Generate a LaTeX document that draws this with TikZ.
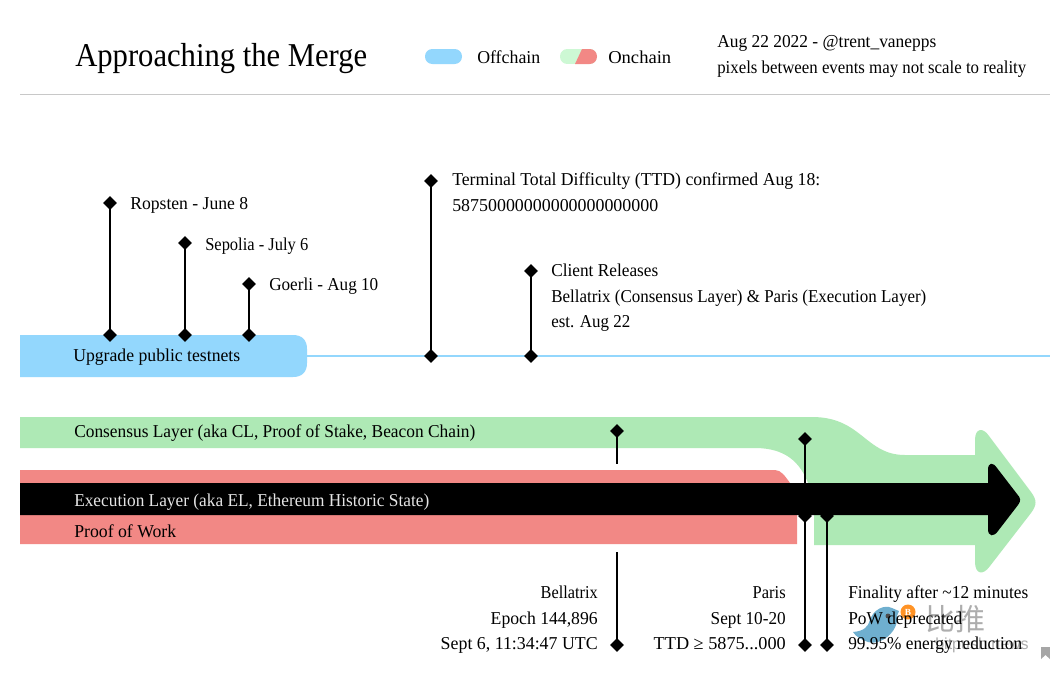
\documentclass[tikz,border=0pt]{standalone}
\usepackage{fontspec}
\setmainfont{Liberation Serif}
\newfontfamily\cjkwm{Noto Sans CJK SC}
\newfontfamily\sanswm{Liberation Sans}
\newcommand\wtext[2]{\resizebox{\dimexpr #1pt*3/4\relax}{\height}{#2}}
\definecolor{offblue}{HTML}{93D7FD}
\definecolor{clgreen}{HTML}{AEE9B5}
\definecolor{powred}{HTML}{F28885}
\definecolor{legendgreen}{HTML}{CDF8D4}
\definecolor{rulegray}{HTML}{C8C8C8}
\definecolor{birdblue}{HTML}{6FAFCF}
\usetikzlibrary{shapes.geometric}
\tikzset{
  x=0.75pt,y=-0.75pt,
  txt/.style={inner sep=0pt,anchor=base west,font=\fontsize{13.6}{16}\selectfont,text=black},
  txtr/.style={txt,anchor=base east},
  stem/.style={line width=2pt,black},
  dia/.style={diamond,fill=black,inner sep=0pt,minimum size=10.5pt},
}
\begin{document}
\begin{tikzpicture}
\useasboundingbox (0,0) rectangle (1050,672);
\fill[white] (0,0) rectangle (1050,672);
% watermark
\fill[birdblue] (853,632) .. controls (864,631) and (868,627) .. (870,620)
  .. controls (873,610) and (884,604) .. (892,608) -- (899,611) -- (897,616)
  .. controls (899,632) and (880,646) .. (868,642) .. controls (862,640) and (856,637) .. (853,632) -- cycle;
\fill[black!70] (888,616) circle (2.5);
\fill[orange!85] (908,612) circle (7.5);
\node[inner sep=0pt,text=white,font=\fontsize{7}{8}\selectfont\bfseries] (btc) at (908,612) {B};
\node[inner sep=0pt,anchor=center,text=black!32,font=\cjkwm\fontsize{22.5}{24}\selectfont] (wm) at (955,619) {比推};
\node[inner sep=0pt,anchor=base east,text=black!32,font=\sanswm\fontsize{12}{13}\selectfont] (wm2) at (1029,649) {bitpush.news};
\fill[black!35] (1041,647) -- (1050,647) -- (1050,659) -- (1045.5,655) -- (1041,659) -- cycle;
% header
\node[txt,font=\fontsize{25}{30}\selectfont] (title) at (75,66) {\wtext{292}{Approaching the Merge}};
\draw[rulegray,line width=0.75pt] (20,94.5) -- (1050,94.5);
\fill[offblue,rounded corners=5.5pt] (425,49) rectangle (462,64);
\begin{scope}
\clip[rounded corners=5.5pt] (560,49) rectangle (597,64);
\fill[legendgreen] (560,49) rectangle (597,64);
\fill[powred] (582,49) -- (597,49) -- (597,64) -- (575,64) -- cycle;
\end{scope}
\node[txt] (off) at (477,63) {\wtext{63}{Offchain}};
\node[txt] (on) at (608,63) {\wtext{63}{Onchain}};
\node[txt] (date) at (717,47) {\wtext{219}{Aug 22 2022 - @trent\_vanepps}};
\node[txt] (pix) at (717,73) {\wtext{309}{pixels between events may not scale to reality}};
% testnets bar
\draw[offblue,line width=1.5pt] (300,356) -- (1050,356);
\fill[offblue] (20,335) -- (293,335) .. controls (302,335) and (307,340) .. (307,349)
  -- (307,363) .. controls (307,372) and (302,377) .. (293,377) -- (20,377) -- cycle;
% CL band
\fill[clgreen] (20,417) -- (812,417)
  .. controls (862,417) and (865,455) .. (905,455)
  -- (975,455) -- (975,440) .. controls (975,428) and (983,427) .. (989,436)
  -- (1031,492) .. controls (1037,500) and (1037,505) .. (1031,513)
  -- (990,566) .. controls (983,576) and (975,574) .. (975,562)
  -- (975,545) -- (814,545) -- (814,483) -- (808,483)
  .. controls (800,462) and (785,448) .. (755,448) -- (20,448) -- cycle;
% PoW band
\fill[powred] (20,470) -- (775,470) .. controls (781,470) and (785,476) .. (790,483) -- (797,483) -- (797,544) -- (20,544) -- cycle;
% band labels
\node[txt] (tn) at (73,361) {\wtext{167}{Upgrade public testnets}};
\node[txt] (cl) at (74,437) {\wtext{401}{Consensus Layer (aka CL, Proof of Stake, Beacon Chain)}};
\node[txt] (pw) at (74,537) {\wtext{102}{Proof of Work}};
% testnet markers
\node[dia] (a1) at (110,203) {}; \node[dia] (a2) at (110,335) {};
\draw[stem] (a1.center) -- (a2.center);
\node[txt] (at) at (130,209) {\wtext{118}{Ropsten - June 8}};
\node[dia] (b1) at (185,243) {}; \node[dia] (b2) at (185,335) {};
\draw[stem] (b1.center) -- (b2.center);
\node[txt] (bt) at (205,250) {\wtext{103}{Sepolia - July 6}};
\node[dia] (c1) at (249,284) {}; \node[dia] (c2) at (249,335) {};
\draw[stem] (c1.center) -- (c2.center);
\node[txt] (ct) at (269,290) {\wtext{109}{Goerli - Aug 10}};
\node[dia] (d1) at (431,181) {}; \node[dia] (d2) at (431,356) {};
\draw[stem] (d1.center) -- (d2.center);
\node[txt] (dt1) at (452,185) {\wtext{368}{Terminal Total Difficulty (TTD) confirmed Aug 18:}};
\node[txt] (dt2) at (452,211) {\wtext{206}{58750000000000000000000}};
\node[dia] (e1) at (531,271) {}; \node[dia] (e2) at (531,356) {};
\draw[stem] (e1.center) -- (e2.center);
\node[txt] (et1) at (551,276) {\wtext{107}{Client Releases}};
\node[txt] (et2) at (551,302) {\wtext{375}{Bellatrix (Consensus Layer) \& Paris (Execution Layer)}};
\node[txt] (et3) at (551,327) {\wtext{79}{est. Aug 22}};
% lower markers
\node[dia] (f1) at (617,431) {}; \coordinate (f2) at (617,464);
\draw[stem] (f1.center) -- (f2);
\coordinate (f3) at (617,552); \node[dia] (f4) at (617,645) {};
\draw[stem] (f3) -- (f4.center);
\node[txtr] (ft1) at (598,598) {\wtext{57}{Bellatrix}};
\node[txtr] (ft2) at (598,624) {\wtext{107}{Epoch 144,896}};
\node[txtr] (ft3) at (598,649) {\wtext{157}{Sept 6, 11:34:47 UTC}};
\node[dia] (g1) at (805,439) {}; \node[dia] (g2) at (805,516) {}; \node[dia] (g3) at (805,645) {};
\draw[stem] (g1.center) -- (g3.center);
\node[txtr] (gt1) at (786,598) {\wtext{33}{Paris}};
\node[txtr] (gt2) at (786,624) {\wtext{75}{Sept 10-20}};
\node[txtr] (gt3) at (786,649) {\wtext{132}{TTD ≥ 5875...000}};
\node[dia] (h2) at (827,516) {}; \node[dia] (h3) at (827,645) {};
\draw[stem] (h2.center) -- (h3.center);
\node[txt] (ht1) at (848,598) {\wtext{180}{Finality after \char`\~12 minutes}};
\node[txt] (ht2) at (848,624) {\wtext{114}{PoW deprecated}};
\node[txt] (ht3) at (848,649) {\wtext{174}{99.95\% energy reduction}};
% EL arrow, over the markers
\fill[black] (20,483) -- (988,483) -- (988,470) .. controls (988,462) and (993,462) .. (997,468)
  -- (1017,494) .. controls (1021,498) and (1021,501) .. (1018,505)
  -- (998,531) .. controls (994,537) and (988,537) .. (988,529) -- (988,515) -- (20,515) -- cycle;
\node[txt,text=white!90!black] (el) at (74,506) {\wtext{355}{Execution Layer (aka EL, Ethereum Historic State)}};
\end{tikzpicture}
\end{document}
